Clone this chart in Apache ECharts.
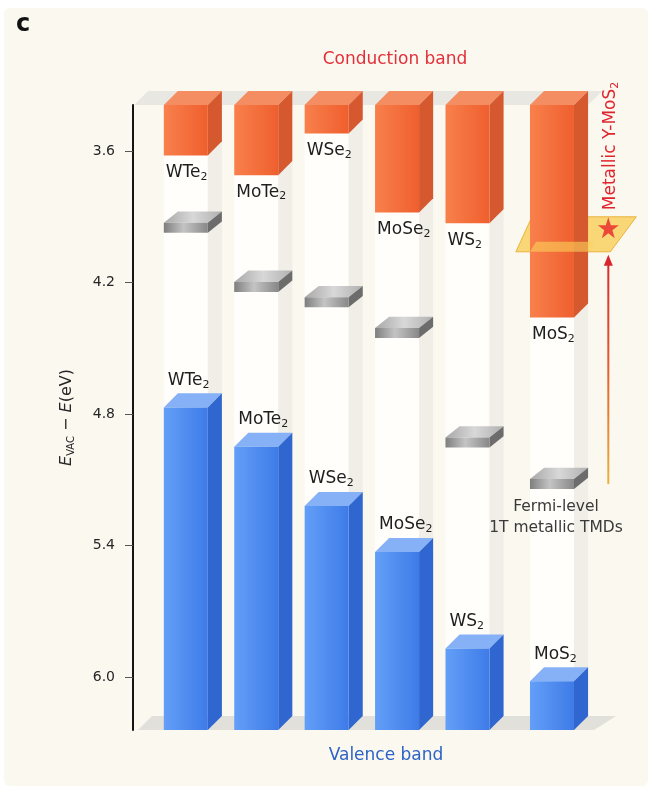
<!DOCTYPE html>
<html lang="en">
<head>
<meta charset="utf-8">
<title>Band alignment of TMDs</title>
<script src="https://cdn.jsdelivr.net/npm/echarts@6.0.0/dist/echarts.min.js"></script>
<style>
    html, body { margin: 0; padding: 0; background: #ffffff; }
    #chart { width: 652px; height: 791px; }
</style>
</head>
<body>
<div id="chart"></div>
<script type="text/javascript">
// band edges vs vacuum level, E_VAC - E (eV)
var materials = ['WTe2', 'MoTe2', 'WSe2', 'MoSe2', 'WS2', 'MoS2'];
var conductionBand = [3.62, 3.71, 3.52, 3.88, 3.93, 4.36];
var fermiLevel1T = [3.95, 4.22, 4.29, 4.43, 4.93, 5.12];
var valenceBand = [4.77, 4.95, 5.22, 5.43, 5.87, 6.02];
var yMoS2Level = 4.06;     // metallic Y-MoS2 plane
var starLevel = 3.95;
var yTicks = [3.6, 4.2, 4.8, 5.4, 6.0];

// layout of the columns along the hidden x axis
var slots = [0, 1, 2, 3, 4, 5.2];
var arrowSlot = 6.0;
var Y_MIN = 3.39, Y_MAX = 6.242;
var FONT = 'DejaVu Sans';

function sub(name) {
    return name.replace(/(\d)$/, '{s|$1}');
}

function labelStyle(text, x, y) {
    return {
        text: sub(text), x: x, y: y,
        fill: '#1e1e1e', fontSize: 17, fontFamily: FONT,
        align: 'left', verticalAlign: 'middle',
        rich: {
            s: {fontSize: 11, fontFamily: FONT, fill: '#1e1e1e', padding: [9, 0, 0, 0]}
        }
    };
}

function box(api, x) {
    var c = api.coord([x, Y_MIN]);
    var hw = api.size([1, 0])[0] * 0.3125;
    return {cx: c[0], hw: hw, d: hw * 0.64};
}

function hGrad(stops) {
    return new echarts.graphic.LinearGradient(0, 0, 1, 0, stops);
}

function renderTrack(params, api) {
    var g = box(api, api.value(0));
    var l = g.cx - g.hw, r = g.cx + g.hw, d = g.d;
    var t = api.coord([0, Y_MIN])[1], b = api.coord([0, Y_MAX])[1];
    return {type: 'group', children: [
        {type: 'rect', shape: {x: l, y: t, width: r - l, height: b - t}, style: {fill: '#fffefb'}},
        {type: 'polygon', shape: {points: [[r, t], [r + d, t - d], [r + d, b - d], [r, b]]},
            style: {fill: '#f1eee7'}}
    ]};
}

function renderFrame(params, api) {
    var cs = params.coordSys;
    var g = box(api, slots[slots.length - 1]);
    var xr = g.cx + g.hw + g.d, d = g.d;
    var t = api.coord([0, Y_MIN])[1], b = api.coord([0, Y_MAX])[1];
    var gl = cs.x + 1;
    return {type: 'group', children: [
        {type: 'polygon', shape: {points: [[gl, t], [xr, t], [xr + d, t - d], [gl + d, t - d]]},
            style: {fill: '#e9e7e1'}},
        {type: 'polygon', shape: {points: [[gl + 4, b], [xr + 6, b], [xr + 6 + d + 8, b - d], [gl + 4 + d, b - d]]},
            style: {fill: '#e2e0da'}}
    ]};
}

function renderConduction(params, api) {
    var i = params.dataIndex;
    var g = box(api, api.value(0));
    var l = g.cx - g.hw, r = g.cx + g.hw, d = g.d;
    var t = api.coord([0, Y_MIN])[1], b = api.coord([0, api.value(1)])[1];
    return {type: 'group', children: [
        {type: 'polygon', shape: {points: [[l, t], [r, t], [r + d, t - d], [l + d, t - d]]},
            style: {fill: '#f58d62'}},
        {type: 'polygon', shape: {points: [[r, t], [r + d, t - d], [r + d, b - d], [r, b]]},
            style: {fill: '#d5582f'}},
        {type: 'rect', shape: {x: l, y: t, width: r - l, height: b - t},
            style: {fill: hGrad([{offset: 0, color: '#f8804c'}, {offset: 1, color: '#ef5f2e'}])}},
        {type: 'text', style: labelStyle(materials[i], l + 2, b + 17)}
    ]};
}

function renderValence(params, api) {
    var i = params.dataIndex;
    var g = box(api, api.value(0));
    var l = g.cx - g.hw, r = g.cx + g.hw, d = g.d;
    var t = api.coord([0, api.value(1)])[1], b = api.coord([0, Y_MAX])[1];
    return {type: 'group', children: [
        {type: 'polygon', shape: {points: [[l, t], [r, t], [r + d, t - d], [l + d, t - d]]},
            style: {fill: '#86b1f6'}},
        {type: 'polygon', shape: {points: [[r, t], [r + d, t - d], [r + d, b - d], [r, b]]},
            style: {fill: '#2f66d0'}},
        {type: 'rect', shape: {x: l, y: t, width: r - l, height: b - t},
            style: {fill: hGrad([{offset: 0, color: '#639ff7'}, {offset: 1, color: '#3e7be8'}])}},
        {type: 'text', style: labelStyle(materials[i], l + 4, t - 27)}
    ]};
}

function renderPlate(params, api) {
    var g = box(api, api.value(0));
    var c = api.coord([0, api.value(1)])[1];
    var l = g.cx - g.hw, r = g.cx + g.hw, d = g.d, dy = g.d * 0.8;
    var t = c - 5, b = c + 5;
    return {type: 'group', children: [
        {type: 'polygon', shape: {points: [[l, t], [r, t], [r + d, t - dy], [l + d, t - dy]]},
            style: {fill: hGrad([{offset: 0, color: '#a8a8a8'}, {offset: 0.5, color: '#d8d8d8'}, {offset: 1, color: '#b0b0b0'}])}},
        {type: 'polygon', shape: {points: [[r, t], [r + d, t - dy], [r + d, b - dy], [r, b]]},
            style: {fill: '#6c6c6c'}},
        {type: 'rect', shape: {x: l, y: t, width: r - l, height: b - t},
            style: {fill: hGrad([{offset: 0, color: '#7e7e7e'}, {offset: 0.45, color: '#c4c4c4'}, {offset: 1, color: '#888888'}])}}
    ]};
}

function renderPlaneBack(params, api) {
    var g = box(api, slots[slots.length - 1]);
    var xl = g.cx - g.hw - g.d;
    var xr = api.coord([arrowSlot, 0])[0] + 2;
    var y = api.coord([0, api.value(1)])[1];
    return {type: 'polygon', shape: {points: [[xl, y], [xr, y], [xr + 26, y - 35], [xl + 16, y - 35]]},
        style: {fill: 'rgba(248,205,85,0.78)', stroke: 'rgba(232,172,45,0.9)', lineWidth: 1}};
}

function renderPlaneFront(params, api) {
    var g = box(api, slots[slots.length - 1]);
    var l = g.cx - g.hw, r = g.cx + g.hw;
    var y = api.coord([0, api.value(1)])[1];
    return {type: 'polygon', shape: {points: [[l, y], [r + g.d, y], [r + g.d + 6, y - 10], [l + 6, y - 10]]},
        style: {fill: 'rgba(250,210,90,0.6)'}};
}

function renderArrow(params, api) {
    var x = api.coord([api.value(0), 0])[0];
    var yb = api.coord([0, api.value(1)])[1];
    var yt = api.coord([0, api.value(2)])[1] + 3;
    var grad = new echarts.graphic.LinearGradient(x, yt, x, yb, [
        {offset: 0, color: '#d8262f'}, {offset: 0.45, color: '#e4572c'}, {offset: 1, color: '#e9b23c'}
    ], true);
    return {type: 'group', children: [
        {type: 'line', shape: {x1: x, y1: yt + 8, x2: x, y2: yb}, style: {stroke: grad, lineWidth: 2}},
        {type: 'polygon', shape: {points: [[x, yt], [x - 4.5, yt + 11], [x + 4.5, yt + 11]]}, style: {fill: '#d8262f'}}
    ]};
}

var slotData = slots.map(function (s) { return [s, Y_MIN]; });

var myChart = echarts.init(document.getElementById('chart'));

myChart.setOption({
    backgroundColor: '#ffffff',
    animation: false,
    grid: {left: 133, right: 12, top: 105, bottom: 61},
    xAxis: {type: 'value', min: -0.75, max: 6.45, show: false},
    yAxis: {
        type: 'value',
        inverse: true,
        min: Y_MIN,
        max: Y_MAX,
        splitLine: {show: false},
        axisLine: {show: true, onZero: false, lineStyle: {color: '#141414', width: 2}},
        axisTick: {show: true, customValues: yTicks, length: 8, lineStyle: {color: '#555555', width: 1}},
        axisLabel: {
            customValues: yTicks,
            margin: 18,
            color: '#262626',
            fontSize: 14,
            fontFamily: FONT,
            formatter: function (v) { return v.toFixed(1); }
        },
        name: '{i|E}{s|VAC} − {i|E}(eV)',
        nameLocation: 'middle',
        nameRotate: 90,
        nameGap: 57,
        nameTextStyle: {
            color: '#262626', fontSize: 16, fontFamily: FONT,
            rich: {
                i: {fontStyle: 'italic', fontSize: 16, fontFamily: FONT, color: '#262626'},
                s: {fontSize: 10, fontFamily: FONT, color: '#262626', padding: [8, 0, 0, 0]}
            }
        }
    },
    graphic: [
        {type: 'rect', z: -100, shape: {x: 4, y: 8, width: 644, height: 778, r: 6}, style: {fill: '#fbf8f0'}},
        {type: 'text', z: 100, x: 16, y: 25,
            style: {text: 'c', fontSize: 24, fontWeight: 'bold', fontFamily: FONT, fill: '#111111', align: 'left', verticalAlign: 'middle'}},
        {type: 'text', z: 100, x: 395, y: 60,
            style: {text: 'Conduction band', fontSize: 17, fontFamily: FONT, fill: '#e2303a', align: 'center', verticalAlign: 'middle'}},
        {type: 'text', z: 100, x: 386, y: 756,
            style: {text: 'Valence band', fontSize: 17, fontFamily: FONT, fill: '#2d63c6', align: 'center', verticalAlign: 'middle'}},
        {type: 'text', z: 100, x: 556, y: 517,
            style: {text: 'Fermi-level\n1T metallic TMDs', fontSize: 15.5, lineHeight: 21, fontFamily: FONT, fill: '#3a3a3a', align: 'center', verticalAlign: 'middle'}},
        {type: 'text', z: 100, x: 611, y: 146, rotation: Math.PI / 2,
            style: {
                text: 'Metallic Y-MoS{s|2}', fontSize: 17, fontFamily: FONT, fill: '#e1252f', align: 'center', verticalAlign: 'middle',
                rich: {s: {fontSize: 11, fontFamily: FONT, fill: '#e1252f', padding: [9, 0, 0, 0]}}
            }}
    ],
    series: [
        {name: 'tracks', type: 'custom', z: 1, silent: true, renderItem: renderTrack, data: slotData},
        {name: 'frame', type: 'custom', z: 2, silent: true, renderItem: renderFrame, data: [[0, Y_MIN]]},
        {name: 'Y-MoS2 plane', type: 'custom', z: 2.5, silent: true, renderItem: renderPlaneBack, data: [[arrowSlot, yMoS2Level]]},
        {name: 'Conduction band', type: 'custom', z: 3, renderItem: renderConduction,
            data: slots.map(function (s, i) { return [s, conductionBand[i]]; })},
        {name: 'Fermi level', type: 'custom', z: 3, renderItem: renderPlate,
            data: slots.map(function (s, i) { return [s, fermiLevel1T[i]]; })},
        {name: 'Valence band', type: 'custom', z: 3, renderItem: renderValence,
            data: slots.map(function (s, i) { return [s, valenceBand[i]]; })},
        {name: 'plane front', type: 'custom', z: 4, silent: true, renderItem: renderPlaneFront, data: [[arrowSlot, yMoS2Level]]},
        {name: 'shift', type: 'custom', z: 4, silent: true, renderItem: renderArrow,
            data: [[arrowSlot, fermiLevel1T[5], yMoS2Level]]},
        {
            name: 'star', type: 'scatter', z: 5,
            symbol: 'path://M50,0 L61.8,35.4 L99,35.4 L69,57.3 L80.2,92.7 L50,70.8 L19.8,92.7 L31,57.3 L1,35.4 L38.2,35.4 Z',
            symbolSize: 21,
            itemStyle: {color: '#e8242b'},
            data: [[arrowSlot, starLevel]]
        }
    ]
});
</script>
</body>
</html>
